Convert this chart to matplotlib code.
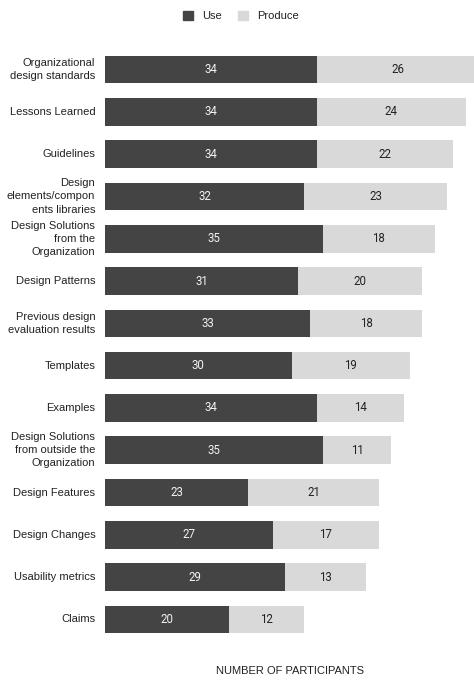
import matplotlib.pyplot as plt
from matplotlib.patches import Patch

categories = [
    "Organizational\ndesign standards",
    "Lessons Learned",
    "Guidelines",
    "Design\nelements/compon\nents libraries",
    "Design Solutions\nfrom the\nOrganization",
    "Design Patterns",
    "Previous design\nevaluation results",
    "Templates",
    "Examples",
    "Design Solutions\nfrom outside the\nOrganization",
    "Design Features",
    "Design Changes",
    "Usability metrics",
    "Claims",
]
use = [34, 34, 34, 32, 35, 31, 33, 30, 34, 35, 23, 27, 29, 20]
produce = [26, 24, 22, 23, 18, 20, 18, 19, 14, 11, 21, 17, 13, 12]

dark = "#444444"
light = "#d9d9d9"

fig = plt.figure(figsize=(4.74, 6.8), dpi=100)
ax = fig.add_axes([105 / 474, 0.0579, 369 / 474, 0.871])

y = list(range(len(categories)))
ax.barh(y, use, height=0.654, color=dark)
ax.barh(y, produce, left=use, height=0.654, color=light)

for i in y:
    ax.text(use[i] / 2, i, str(use[i]), ha="center", va="center",
            color="#f2f2f2", fontsize=8.3, family="Roboto")
    ax.text(use[i] + produce[i] / 2, i, str(produce[i]), ha="center",
            va="center", color="#222222", fontsize=8.3, family="Roboto")

ax.set_xlim(0, 59.3)
ax.set_ylim(len(categories) - 0.5, -0.5)
ax.set_yticks([])
ax.set_xticks([])
for s in ax.spines.values():
    s.set_visible(False)

# category labels, right-aligned against the bars
for i, name in enumerate(categories):
    ax.annotate(name, xy=(0, i), xytext=(-7, 0), textcoords="offset points",
                ha="right", va="center", multialignment="right",
                family="Liberation Sans", fontsize=8, color="#222222",
                linespacing=1.4)

handles = [Patch(color=dark, label="Use"), Patch(color=light, label="Produce")]
fig.legend(handles=handles, loc="center", bbox_to_anchor=(241 / 474, 1 - 16 / 680),
           ncol=2, frameon=False, handlelength=0.9, handleheight=0.9,
           handletextpad=0.8, columnspacing=1.5,
           prop={"family": "Liberation Sans", "size": 8})
for t in fig.legends[0].get_texts():
    t.set_color("#222222")

fig.text(290 / 474, 1 - 671 / 680, "NUMBER OF PARTICIPANTS", ha="center",
         va="center", fontsize=8, family="Liberation Sans", color="#222222")

fig.savefig("out.png", dpi=100)
